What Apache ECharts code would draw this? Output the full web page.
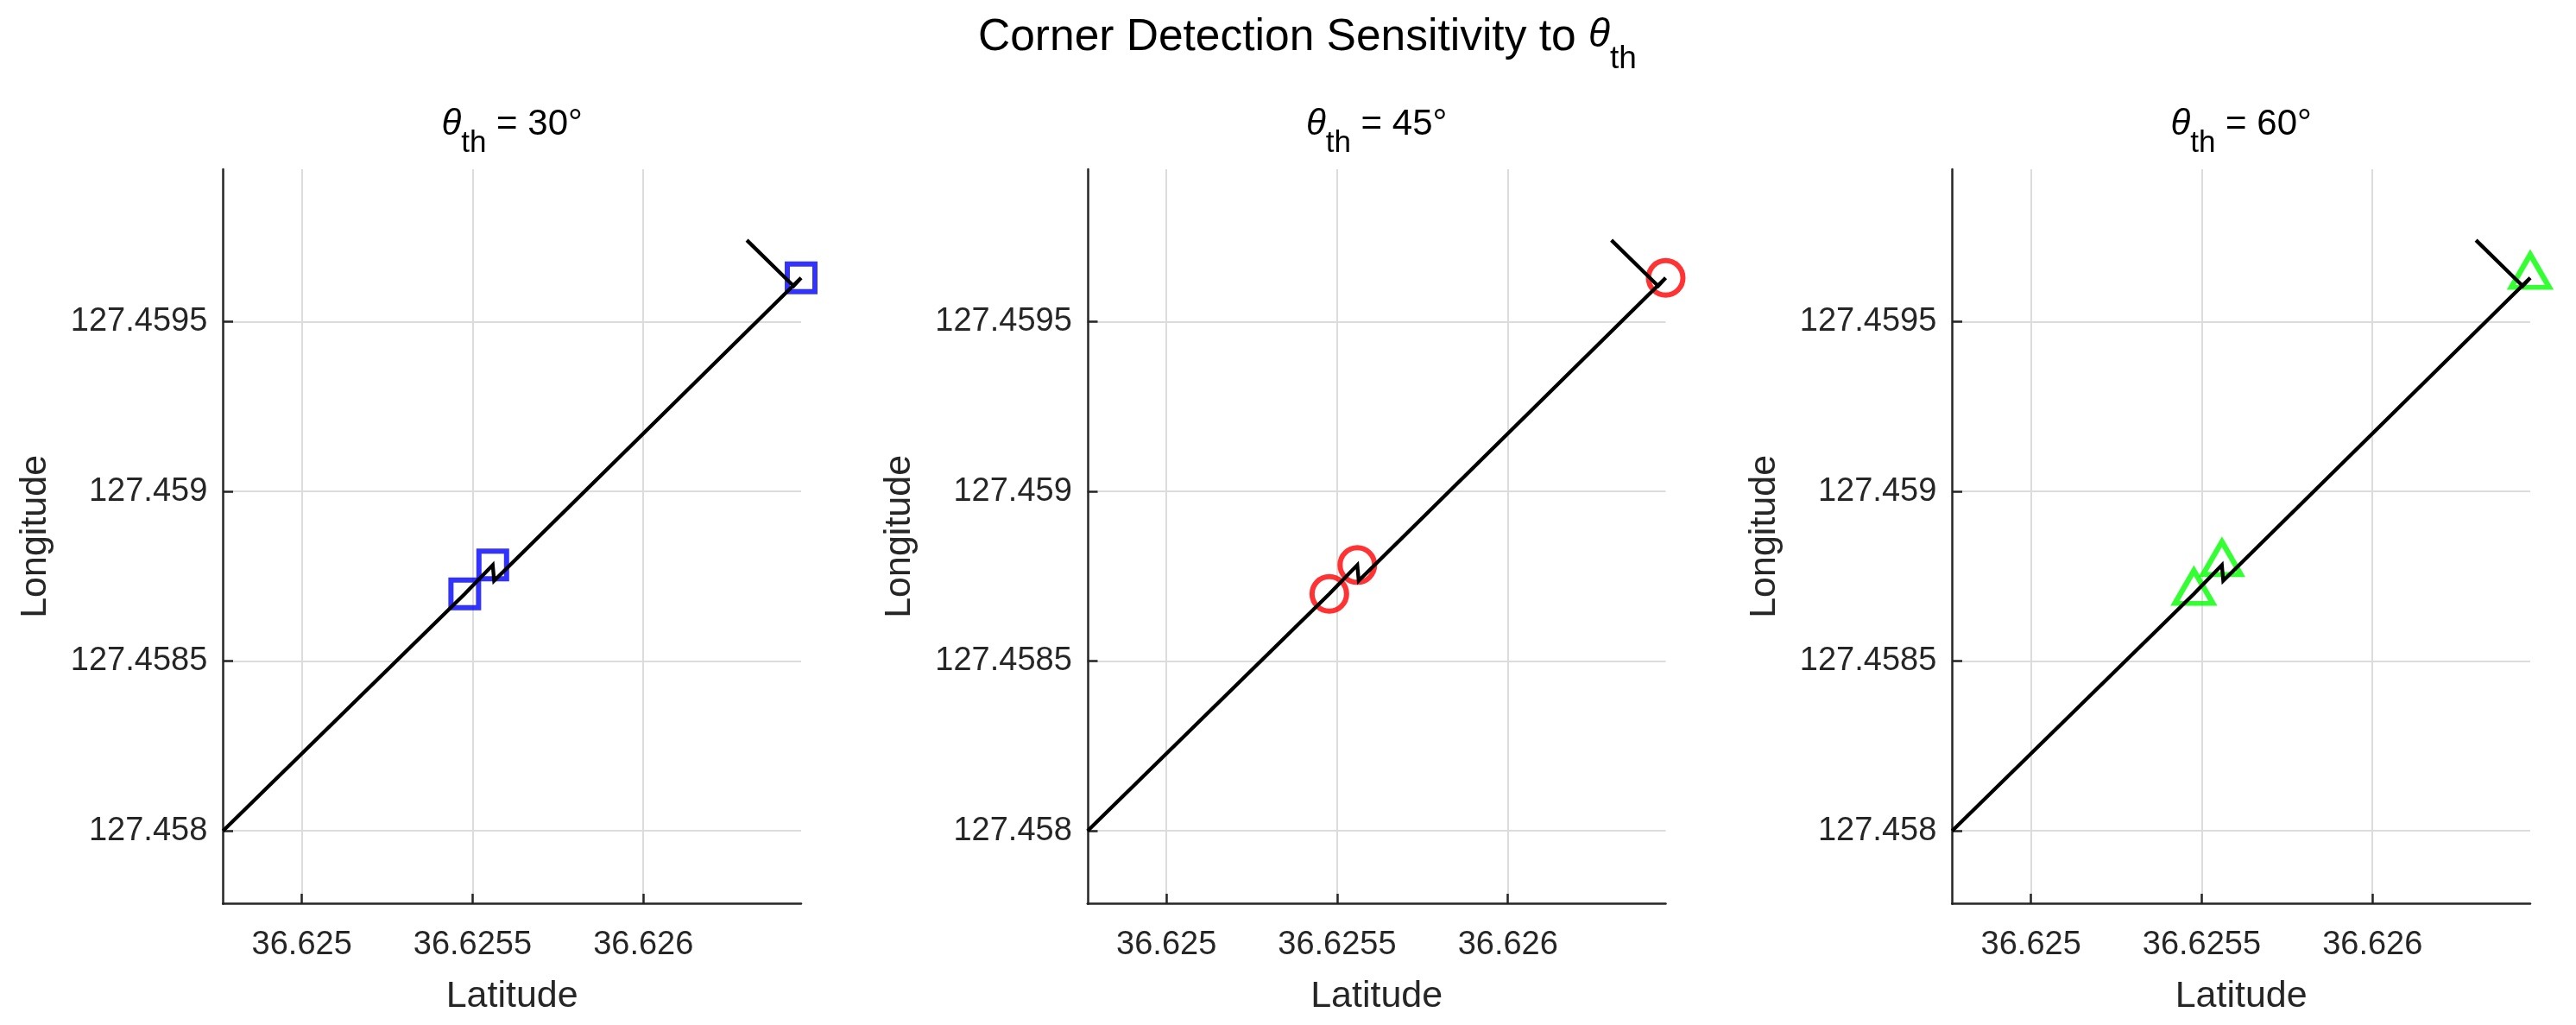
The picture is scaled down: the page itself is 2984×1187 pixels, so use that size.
<!DOCTYPE html>
<html>
<head>
<meta charset="utf-8">
<script src="https://cdn.jsdelivr.net/npm/echarts@6/dist/echarts.min.js"></script>
<style>
html,body{margin:0;padding:0;background:#fff;}
#c{width:2984px;height:1187px;}
</style>
</head>
<body>
<div id="c"></div>
<script>
// ---- data ----
const LAT_PATH = [36.624769, 36.625477, 36.625559, 36.625563, 36.626462, 36.626440, 36.626303];
const LON_PATH = [127.458000, 127.458698, 127.458783, 127.458737, 127.459629, 127.459605, 127.459740];
const CORNER_LAT = [36.625477, 36.625559, 36.626462];
const CORNER_LON = [127.458698, 127.458783, 127.459629];
const X_TICKS = [36.625, 36.6255, 36.626];
const Y_TICKS = [127.458, 127.4585, 127.459, 127.4595];
const X_RANGE = [36.624769, 36.626462];
const Y_RANGE = [127.457785, 127.459949];
const THRESHOLDS = [30, 45, 60];
const MARKER_SHAPES = ['rect', 'circle', 'triangle'];
const MARKER_COLORS = ['#0000ff', '#ff0000', '#00ff00'];
const MAIN_TITLE = 'Corner Detection Sensitivity to ';
const X_NAME = 'Latitude';
const Y_NAME = 'Longitude';

// ---- layout ----
const GRID_LEFT0 = 258.3, GRID_STEP = 1001.5, GRID_W = 669.7, GRID_TOP = 196, GRID_H = 850.7;
const AX = '#262626';
const FONT = 'Liberation Sans';

const chart = echarts.init(document.getElementById('c'), null, {renderer: 'canvas'});

const pathData = LAT_PATH.map((v, i) => [v, LON_PATH[i]]);
const cornerData = CORNER_LAT.map((v, i) => [v, CORNER_LON[i]]);

const grids = [], xAxes = [], yAxes = [], series = [];
const titles = [{
  text: '{n|' + MAIN_TITLE + '}{i|θ}{s|th}',
  left: 1133, top: 18, padding: 0,
  textStyle: {
    fontWeight: 'normal',
    rich: {
      n: {fontFamily: FONT, fontWeight: 'normal', fontSize: 51.5, lineHeight: 51.5, color: '#000', verticalAlign: 'top'},
      i: {fontFamily: FONT, fontWeight: 'normal', fontStyle: 'italic', fontSize: 46, lineHeight: 51.5, color: '#000', verticalAlign: 'top'},
      s: {fontFamily: FONT, fontWeight: 'normal', fontSize: 37, lineHeight: 37, color: '#000', verticalAlign: 'top', padding: [32, 0, 0, 0]}
    }
  }
}];

const symbolSizes = [32, 40, [44, 38]];
const symbolOffsets = [[0, 0], [0, 0], [0, -8]];

THRESHOLDS.forEach((th, k) => {
  const left = GRID_LEFT0 + k * GRID_STEP;
  grids.push({left: left, top: GRID_TOP, width: GRID_W, height: GRID_H, containLabel: false});
  titles.push({
    text: '{i|θ}{s|th}{n| = ' + th + '°}',
    left: left + GRID_W / 2, textAlign: 'center', top: 123, padding: 0,
    textStyle: {
      fontWeight: 'normal',
      rich: {
        n: {fontFamily: FONT, fontWeight: 'normal', fontSize: 42, lineHeight: 42, color: '#000', verticalAlign: 'top'},
        i: {fontFamily: FONT, fontWeight: 'normal', fontStyle: 'italic', fontSize: 42, lineHeight: 42, color: '#000', verticalAlign: 'top'},
        s: {fontFamily: FONT, fontWeight: 'normal', fontSize: 35, lineHeight: 35, color: '#000', verticalAlign: 'top', padding: [26, 0, 0, 0]}
      }
    }
  });
  xAxes.push({
    type: 'value', gridIndex: k, min: X_RANGE[0], max: X_RANGE[1], splitNumber: 3,
    name: X_NAME, nameLocation: 'middle', nameGap: 86,
    nameTextStyle: {fontFamily: FONT, fontSize: 43, color: AX},
    axisLine: {show: true, onZero: false, lineStyle: {color: AX, width: 2.5}},
    axisTick: {show: true, inside: true, length: 11.7, customValues: X_TICKS, lineStyle: {color: AX, width: 2.5}},
    axisLabel: {show: true, margin: 29, customValues: X_TICKS, fontFamily: FONT, fontSize: 38, color: AX},
    splitLine: {show: true, lineStyle: {color: '#dcdcdc', width: 2}}
  });
  yAxes.push({
    type: 'value', gridIndex: k, min: Y_RANGE[0], max: Y_RANGE[1], splitNumber: 4,
    name: Y_NAME, nameLocation: 'middle', nameGap: 196,
    nameTextStyle: {fontFamily: FONT, fontSize: 43, color: AX},
    axisLine: {show: true, onZero: false, lineStyle: {color: AX, width: 2.5}},
    axisTick: {show: true, inside: true, length: 11.7, customValues: Y_TICKS, lineStyle: {color: AX, width: 2.5}},
    axisLabel: {show: true, margin: 18, customValues: Y_TICKS, fontFamily: FONT, fontSize: 38, color: AX},
    splitLine: {show: true, lineStyle: {color: '#dcdcdc', width: 2}}
  });
  series.push({
    type: 'line', xAxisIndex: k, yAxisIndex: k, data: pathData,
    symbol: 'none', showSymbol: false, clip: false, animation: false,
    lineStyle: {color: '#000', width: 4.3, join: 'miter'}
  });
  series.push({
    type: 'scatter', xAxisIndex: k, yAxisIndex: k, data: cornerData,
    symbol: MARKER_SHAPES[k], symbolSize: symbolSizes[k], symbolOffset: symbolOffsets[k],
    clip: false, animation: false,
    itemStyle: {color: 'rgba(0,0,0,0)', borderColor: MARKER_COLORS[k], borderWidth: 6}
  });
});

chart.setOption({
  backgroundColor: '#fff',
  animation: false,
  title: titles,
  grid: grids,
  xAxis: xAxes,
  yAxis: yAxes,
  series: series
});
</script>
</body>
</html>
